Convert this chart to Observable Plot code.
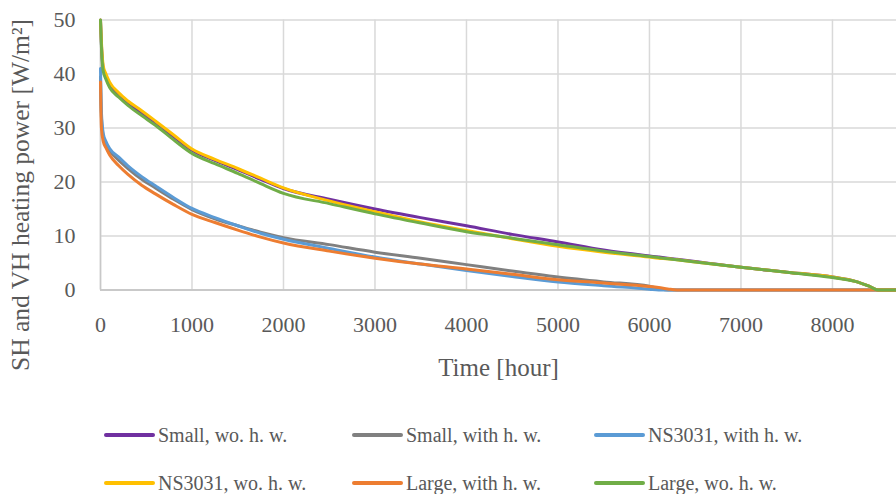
<!DOCTYPE html>
<html>
<head>
<meta charset="utf-8">
<script src="https://cdn.jsdelivr.net/npm/d3@7"></script>
<script src="https://cdn.jsdelivr.net/npm/@observablehq/plot@0.6"></script>
<style>
  html, body { margin: 0; padding: 0; background: #fff; }
  #wrap { position: relative; width: 896px; height: 494px; overflow: hidden; font-family: "Liberation Serif", "DejaVu Serif", serif; }
  #legend { position: absolute; left: 0; top: 0; width: 896px; height: 494px; pointer-events: none; }
  .item { position: absolute; display: flex; align-items: center; font-size: 20px; color: #595959; white-space: nowrap; }
  .swatch { width: 51px; height: 4px; border-radius: 2px; margin-right: 3px; }
</style>
</head>
<body>
<div id="wrap"><div id="chart"></div><div id="legend"></div></div>
<script>
// ---- data ----
const hours = [0, 10, 30, 60, 100, 200, 300, 450, 600, 800, 1000, 1250, 1500, 1750, 2000, 2500, 3000, 3500, 4000, 4500, 5000, 5500, 6000, 6100, 6200, 6300, 6500, 7000, 7500, 8000, 8250, 8400, 8500, 8760];

const smallWo   = [50, 45.5, 41, 39.5, 38, 36, 34.6, 32.8, 31, 28.4, 25.9, 24.0, 22.3, 20.5, 18.8, 16.8, 15.0, 13.4, 11.9, 10.3, 8.9, 7.4, 6.3, 6.1, 5.9, 5.7, 5.3, 4.2, 3.3, 2.4, 1.6, 0.7, 0, 0];
const smallWith = [39.5, 32, 28.5, 27, 25.8, 24.0, 22.5, 20.5, 18.9, 16.8, 14.9, 13.2, 11.9, 10.7, 9.7, 8.4, 7.0, 5.9, 4.7, 3.5, 2.4, 1.5, 0.7, 0.3, 0, 0, 0, 0, 0, 0, 0, 0, 0, 0];
const nsWith    = [41, 33, 29, 27.5, 26.2, 24.6, 23.0, 21.0, 19.3, 17.1, 15.1, 13.4, 11.9, 10.5, 9.4, 7.7, 6.1, 4.8, 3.6, 2.5, 1.5, 0.8, 0.15, 0, 0, 0, 0, 0, 0, 0, 0, 0, 0, 0];
const nsWo      = [50, 46, 41.5, 40, 38.5, 36.5, 35, 33.2, 31.3, 28.7, 26.1, 24.2, 22.5, 20.7, 18.9, 16.5, 14.5, 12.6, 11.0, 9.5, 8.1, 7.0, 6.1, 5.9, 5.8, 5.6, 5.2, 4.2, 3.3, 2.4, 1.6, 0.7, 0, 0];
const largeWith = [38.5, 30, 27.5, 26.3, 25.0, 23.0, 21.4, 19.4, 17.8, 15.8, 14.0, 12.5, 11.1, 9.8, 8.7, 7.2, 5.9, 4.8, 3.9, 2.9, 1.9, 1.3, 0.65, 0.45, 0.2, 0, 0, 0, 0, 0, 0, 0, 0, 0];
const largeWo   = [50, 45, 40.5, 39, 37.5, 35.7, 34.2, 32.3, 30.5, 27.8, 25.3, 23.4, 21.6, 19.7, 17.9, 16.0, 14.1, 12.4, 10.8, 9.6, 8.4, 7.2, 6.2, 6.0, 5.8, 5.6, 5.2, 4.2, 3.3, 2.3, 1.6, 0.7, 0, 0];

const seriesNames = ["Small, wo. h. w.", "Small, with h. w.", "NS3031, with h. w.", "NS3031, wo. h. w.", "Large, with h. w.", "Large, wo. h. w."];
const seriesValues = [smallWo, smallWith, nsWith, nsWo, largeWith, largeWo];
const seriesColors = ["#7030a0", "#808080", "#5b9bd5", "#ffc000", "#ed7d31", "#70ad47"];

const xTicks = [0, 1000, 2000, 3000, 4000, 5000, 6000, 7000, 8000];
const yTicks = [0, 10, 20, 30, 40, 50];
const xTitle = "Time [hour]";
const yTitle = "SH and VH heating power [W/m\u00B2]";

// ---- build ----
const rows = [];
seriesNames.forEach((name, k) => {
  hours.forEach((h, i) => rows.push({t: h, v: seriesValues[k][i], s: name}));
});

const font = "'Liberation Serif', 'DejaVu Serif', serif";
const textColor = "#595959";

const chart = Plot.plot({
  width: 896,
  height: 390,
  marginLeft: 100,
  marginRight: 0,
  marginTop: 19.5,
  marginBottom: 100.5,
  style: {fontFamily: font, color: textColor, background: "white", overflow: "visible"},
  x: {domain: [0, 8700]},
  y: {domain: [0, 50]},
  color: {domain: seriesNames, range: seriesColors},
  marks: [
    Plot.gridX(xTicks, {stroke: "#d9d9d9", strokeOpacity: 1, strokeWidth: 1.5}),
    Plot.gridY(yTicks, {stroke: "#d9d9d9", strokeOpacity: 1, strokeWidth: 1.5}),
    Plot.ruleY([0], {stroke: "#c0c0c0", strokeWidth: 1.5}),
    Plot.ruleX([0], {stroke: "#c8c8c8", strokeWidth: 1.5}),
    Plot.axisX(xTicks, {tickSize: 0, tickPadding: 26, fontSize: 22, tickFormat: d => String(d), label: null, fill: textColor}),
    Plot.axisY(yTicks, {tickSize: 0, tickPadding: 25, fontSize: 22, tickFormat: d => String(d), label: null, fill: textColor}),
    Plot.line(rows, {x: "t", y: "v", z: "s", stroke: "s", strokeWidth: 3, curve: "monotone-x"}),
    Plot.text([xTitle], {frameAnchor: "bottom", dy: 77.5, lineAnchor: "middle", fontSize: 25, fill: textColor}),
    Plot.text([yTitle], {frameAnchor: "left", dx: -80, dy: 40, rotate: -90, lineAnchor: "middle", textAnchor: "middle", fontSize: 25.5, fill: textColor})
  ]
});
document.getElementById("chart").appendChild(chart);

// ---- legend ----
const legend = document.getElementById("legend");
const colX = [104, 352, 594];
const rowY = [435, 483];
seriesNames.forEach((name, k) => {
  const item = document.createElement("div");
  item.className = "item";
  item.style.left = colX[k % 3] + "px";
  item.style.top = (rowY[Math.floor(k / 3)] - 13) + "px";
  item.style.height = "26px";
  const sw = document.createElement("div");
  sw.className = "swatch";
  sw.style.background = seriesColors[k];
  const label = document.createElement("span");
  label.textContent = name;
  item.appendChild(sw);
  item.appendChild(label);
  legend.appendChild(item);
});
</script>
</body>
</html>
